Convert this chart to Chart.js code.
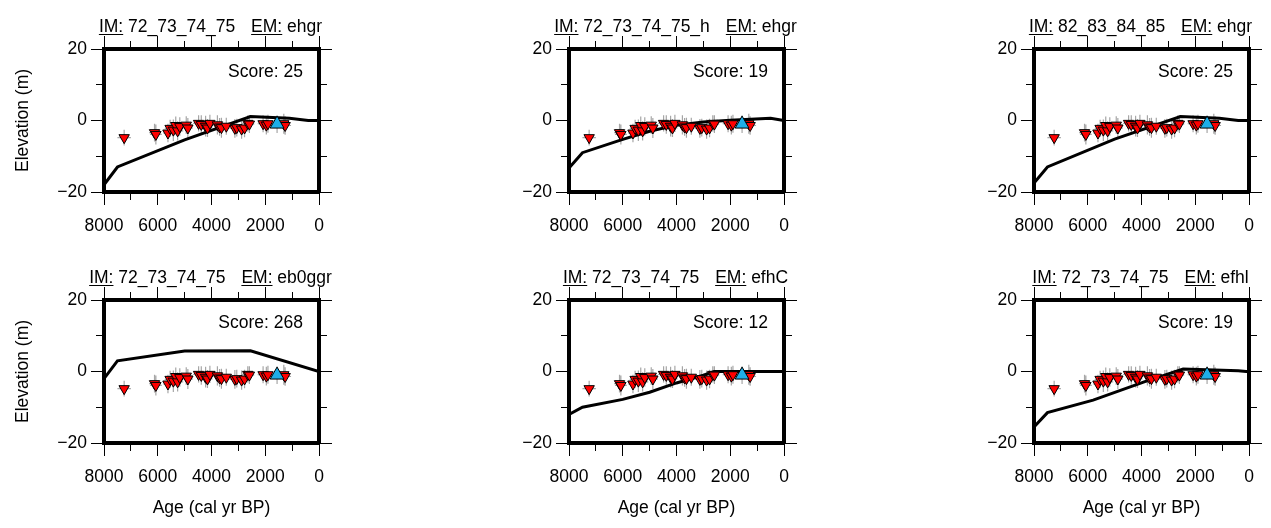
<!DOCTYPE html>
<html>
<head>
<meta charset="utf-8">
<script src="https://cdn.jsdelivr.net/npm/chart.js@4/dist/chart.umd.min.js"></script>
<style>
body{margin:0;width:1271px;height:528px;background:#fff;position:relative;overflow:hidden;font-family:"Liberation Sans",Arial,sans-serif;font-size:17.5px;color:#000}
canvas{position:absolute}
.titulo{position:absolute;white-space:nowrap;line-height:20px;transform:translateX(-50%)}
.titulo u{text-decoration-thickness:1px;text-underline-offset:2px}
.hueco{display:inline-block;width:16px}
.score{position:absolute;white-space:nowrap;line-height:20px;transform:translateX(-100%)}
</style>
</head>
<body>
<script>

// sea-level index points (red, inverted triangles)
var sampleAge  = [7250,6120,6070,5620,5540,5420,5330,5260,5180,4940,4880,4480,4380,4220,4150,4060,3780,3700,3630,3450,3130,3060,2880,2770,2650,2590,2080,1960,1900,1310,1260];
var sampleElev = [-4.8,-3.4,-3.9,-3.5,-2.2,-2.7,-1.4,-2.9,-1.7,-1.3,-2.1,-0.8,-1.1,-1.6,-2.1,-0.8,-1.2,-1.8,-2.0,-1.6,-2.2,-2.0,-2.4,-2.1,-0.8,-1.0,-0.9,-1.3,-0.9,-0.9,-1.4];
var ageErr     = [250,200,220,180,200,230,190,210,200,220,190,200,230,210,190,200,220,180,200,210,200,190,220,200,210,180,200,210,190,200,220];
var elevErr    = [2.2,2.5,2.8,2.6,2.4,3.0,2.5,2.7,2.6,2.5,2.8,2.3,2.6,2.9,2.5,2.4,2.7,2.5,2.8,2.4,2.6,2.5,2.7,2.6,2.3,2.5,2.4,2.6,2.5,2.8,2.6];

// blue upward triangle
var upperAge = [1560];
var upperElev = [-1.0];
var upperAgeErr = [250];
var upperElevErr = [2.5];

// model curves, one per panel
var modelAge1  = [8000,7500,5000,2550,1100,400,0];
var modelElev1 = [-18,-13,-5.4,1.1,0.6,0,0];
var modelAge2  = [8000,7500,6000,5000,4000,3000,2000,500,0];
var modelElev2 = [-13.3,-9,-5.3,-3,-1.3,-0.4,0.1,0.6,0];
var modelAge3  = [8000,7500,5000,2550,1100,400,0];
var modelElev3 = [-17.5,-13,-5.2,1.1,0.6,0,0];
var modelAge4  = [8000,7500,5000,2550,0];
var modelElev4 = [-2,3,5.7,5.8,0];
var modelAge5  = [8000,7500,6000,5000,4000,3000,2600,0];
var modelElev5 = [-12,-10,-7.8,-5.8,-3.2,-1,0,0];
var modelAge6  = [8000,7500,5800,3900,2450,400,0];
var modelElev6 = [-15.5,-11.5,-8,-2.9,0.7,0.2,-0.1];

var panelIM    = ['72_73_74_75','72_73_74_75_h','82_83_84_85','72_73_74_75','72_73_74_75','72_73_74_75'];
var panelEM    = ['ehgr','ehgr','ehgr','eb0ggr','efhC','efhl'];
var panelScore = [25,19,25,268,12,19];

var xTickValues = [8000,6000,4000,2000,0];
var yTickValues = [20,0,-20];

var modelAges  = [modelAge1,modelAge2,modelAge3,modelAge4,modelAge5,modelAge6];
var modelElevs = [modelElev1,modelElev2,modelElev3,modelElev4,modelElev5,modelElev6];

// layout
var frameLeft = [104,569,1034];
var frameTop = [49,300];
var frameW = 215;

Chart.defaults.font.family = '"Liberation Sans", Arial, sans-serif';
Chart.defaults.font.size = 17.5;
Chart.defaults.color = '#000';

function puntos(xs,ys){
	var r=[];
	for(var i=0;i<xs.length;i++){ r.push({x:xs[i],y:ys[i]}); }
	return r;
}

function barrasError(){
	var r=[];
	var xs=sampleAge.concat(upperAge), ys=sampleElev.concat(upperElev);
	var ex=ageErr.concat(upperAgeErr), ey=elevErr.concat(upperElevErr);
	for(var i=0;i<xs.length;i++){
		r.push({x:xs[i]-ex[i],y:ys[i]},{x:xs[i]+ex[i],y:ys[i]},{x:xs[i],y:null});
		r.push({x:xs[i],y:ys[i]-ey[i]},{x:xs[i],y:ys[i]+ey[i]},{x:xs[i],y:null});
	}
	return r;
}

function formatoY(v){
	return v<0 ? '\u2212'+Math.abs(v) : String(v);
}

function marcas(pos,mayores){
	return {
		drawOnChartArea:false,
		drawTicks:true,
		tickLength:13,
		tickColor:'#000',
		tickWidth:1,
		tickBorderDash:function(ctx){
			if(!ctx.tick || mayores.indexOf(ctx.tick.value)>=0) return [];
			return (pos==='left'||pos==='top') ? [0,5,6,100] : [6,100];
		}
	};
}

var borde = {display:true,color:'#000',width:4};

function crearPanel(p){
	var fila=Math.floor(p/3), col=p%3;
	var fl=frameLeft[col], ft=frameTop[fila];

	var canvas=document.createElement('canvas');
	canvas.width=350; canvas.height=272;
	canvas.style.left=(fl-100)+'px';
	canvas.style.top=(ft-49)+'px';
	document.body.appendChild(canvas);

	new Chart(canvas,{
		type:'scatter',
		data:{
			datasets:[
				{type:'line',data:barrasError(),borderColor:'#a6a6a6',borderWidth:1.2,pointRadius:0,spanGaps:false,order:4},
				{type:'line',data:puntos(modelAges[p],modelElevs[p]),borderColor:'#000',borderWidth:3,pointRadius:0,tension:0,order:3},
				{type:'scatter',data:puntos(sampleAge,sampleElev),pointStyle:'triangle',rotation:180,pointRadius:6,backgroundColor:'#ff0000',borderColor:'#000',borderWidth:1,order:2},
				{type:'scatter',data:puntos(upperAge,upperElev),pointStyle:'triangle',pointRadius:8,backgroundColor:'#1eaee8',borderColor:'#000',borderWidth:1,order:1}
			]
		},
		options:{
			responsive:false,
			animation:false,
			devicePixelRatio:1,
			layout:{padding:0},
			plugins:{legend:{display:false},tooltip:{enabled:false}},
			scales:{
				x:{
					type:'linear',position:'bottom',reverse:true,min:0,max:8000,
					afterFit:function(s){ s.height=80; },
					border:borde,
					grid:marcas('bottom',xTickValues),
					ticks:{stepSize:1000,autoSkip:false,maxRotation:0,padding:11,
						callback:function(v){ return xTickValues.indexOf(v)>=0 ? String(v) : ''; }},
					title:{display:fila===1,text:'Age (cal yr BP)',padding:{top:0,bottom:4}}
				},
				x2:{
					type:'linear',position:'top',reverse:true,min:0,max:8000,display:true,
					afterFit:function(s){ s.height=49; },
					border:borde,
					grid:marcas('top',xTickValues),
					ticks:{display:false,stepSize:1000}
				},
				y:{
					type:'linear',position:'left',min:-20,max:20,
					afterFit:function(s){ s.width=100; },
					border:borde,
					grid:marcas('left',yTickValues),
					ticks:{stepSize:10,autoSkip:false,padding:4,
						callback:function(v){ return yTickValues.indexOf(v)>=0 ? formatoY(v) : ''; }},
					title:{display:col===0,text:'Elevation (m)',padding:{top:9,bottom:0}}
				},
				y2:{
					type:'linear',position:'right',min:-20,max:20,display:true,
					afterFit:function(s){ s.width=35; },
					border:borde,
					grid:marcas('right',yTickValues),
					ticks:{display:false,stepSize:10}
				}
			}
		}
	});

	var t=document.createElement('div');
	t.className='titulo';
	t.innerHTML='<u>IM:</u> '+panelIM[p]+'<span class="hueco"></span><u>EM:</u> '+panelEM[p];
	t.style.left=(fl+frameW/2-1)+'px';
	t.style.top=(ft-33.3)+'px';
	document.body.appendChild(t);

	var s=document.createElement('div');
	s.className='score';
	s.textContent='Score: '+panelScore[p];
	s.style.left=(fl+frameW-16)+'px';
	s.style.top=(ft+12.2)+'px';
	document.body.appendChild(s);
}

for(var p=0;p<6;p++){
	crearPanel(p);
}
</script>
</body>
</html>
